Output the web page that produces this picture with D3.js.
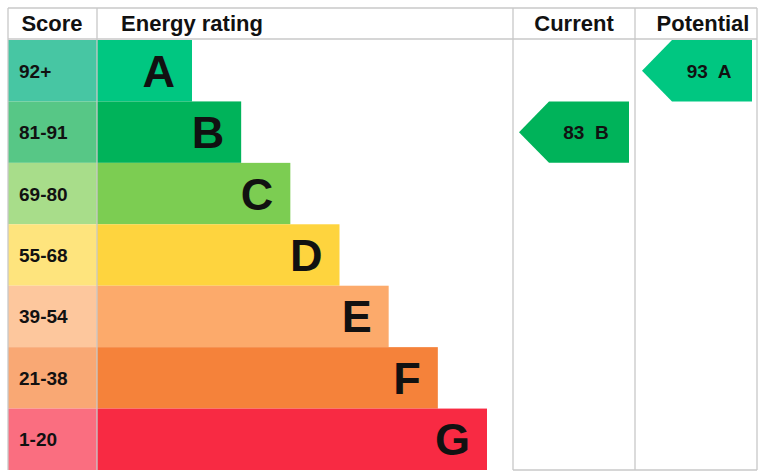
<!DOCTYPE html><html><head><meta charset="utf-8"><script src="https://cdn.jsdelivr.net/npm/d3@7"></script>
<style>body{margin:0;background:#fff}text{font-family:"Liberation Sans",Arial,sans-serif;font-weight:bold}</style></head><body><svg width="768" height="474"></svg><script>
const bands=["A","B","C","D","E","F","G"];
const scores=["92+","81-91","69-80","55-68","39-54","21-38","1-20"];
const widthRank=[0,1,2,3,4,5,6];
const barColors=["#00c781","#00b35a","#7ccd52","#fed43e","#fcaa6b","#f5823a","#f82a43"];
const scoreColors=["#47c6a3","#57c786","#a8dd8a","#fee47d","#fdc79d","#f9a874","#fa6e80"];
const current={value:83,band:"B"}, potential={value:93,band:"A"};
const svg=d3.select("svg");
const y=d3.scaleBand().domain(bands).range([40,470]);
const x=d3.scaleLinear().domain([0,6]).range([192,487]);
const g=svg.append("g");
const L=8,R=757,T=8,B=470;
bands.forEach((b,i)=>{
 g.append("rect").attr("x",L).attr("y",y(b)).attr("width",89).attr("height",y.bandwidth()).attr("fill",scoreColors[i]);
 g.append("rect").attr("x",97).attr("y",y(b)).attr("width",x(widthRank[i])-97).attr("height",y.bandwidth()).attr("fill",barColors[i]);
 g.append("text").attr("x",19).attr("y",y(b)+y.bandwidth()/2+7).attr("font-size",19).attr("fill","#111").text(scores[i]);
 g.append("text").attr("x",x(widthRank[i])-17).attr("y",y(b)+y.bandwidth()/2+16).attr("text-anchor","end").attr("font-size",45).attr("fill","#111").text(b);
});
const lc="#c8c8c8";
[[L,T,R,T],[L,39,R,39],[L,T,L,B],[R,T,R,B],[97,T,97,B],[513,T,513,B],[635,T,635,B],[513,B,R,B]].forEach(l=>g.append("line").attr("x1",l[0]).attr("y1",l[1]).attr("x2",l[2]).attr("y2",l[3]).attr("stroke",lc).attr("stroke-width",1.3));
const heads=[["Score",52],["Energy rating",192],["Current",574],["Potential",703]];
heads.forEach(h=>g.append("text").attr("x",h[1]).attr("y",31).attr("text-anchor","middle").attr("font-size",22).attr("fill","#111").text(h[0]));
function arrow(r,x0,x1){
 const i=bands.indexOf(r.band),t=y(r.band),h=y.bandwidth(),bt=t+h;
 g.append("path").attr("d",`M${x0},${t+h/2}L${x0+30},${t}L${x1},${t}L${x1},${bt}L${x0+30},${bt}Z`).attr("fill",barColors[i]);
 g.append("text").attr("x",(x0+x1)/2+12).attr("y",t+h/2+7).attr("text-anchor","middle").attr("font-size",19).attr("fill","#111").attr("xml:space","preserve").text(r.value+"  "+r.band);
}
arrow(current,519,629);arrow(potential,642,752);
</script></body></html>
